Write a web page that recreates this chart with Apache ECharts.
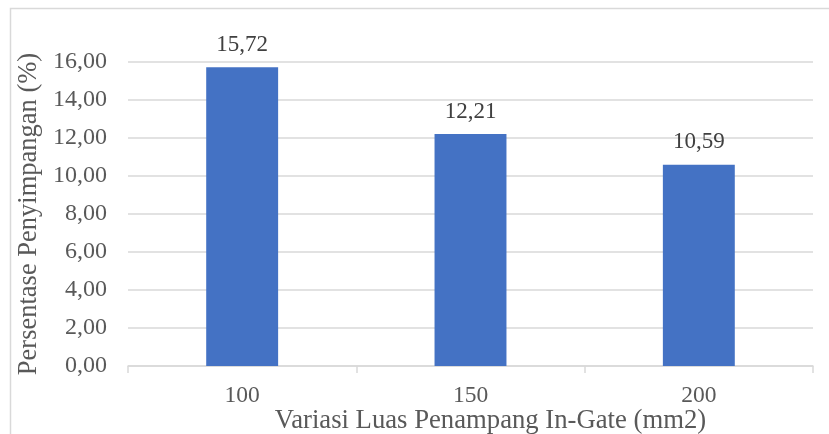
<!DOCTYPE html>
<html>
<head>
<meta charset="utf-8">
<script src="https://cdn.jsdelivr.net/npm/echarts@6/dist/echarts.min.js"></script>
<style>
  html, body { margin: 0; padding: 0; background: #ffffff; }
  #chart { width: 829px; height: 434px; }
</style>
</head>
<body>
<div id="chart"></div>
<script>
// Gate cross-section area variants and their deviation percentage
const categories = ['100', '150', '200'];
const deviation = [15.72, 12.21, 10.59];
const yTicks = { min: 0, max: 16, interval: 2 };

const fmt = v => v.toFixed(2).replace('.', ',');
const serif = '"Liberation Serif", "Times New Roman", serif';

const chart = echarts.init(document.getElementById('chart'), null, { renderer: 'canvas' });

chart.setOption({
  backgroundColor: '#ffffff',
  animation: false,
  textStyle: { fontFamily: serif },
  graphic: [
    {
      type: 'rect',
      shape: { x: 10.5, y: 8.5, width: 840, height: 460 },
      style: { fill: 'none', stroke: '#d9d9d9', lineWidth: 1.5 },
      silent: true,
      z: -1
    }
  ],
  grid: { left: 128, right: 16, top: 62, bottom: 68, outerBoundsMode: 'none', containLabel: false },
  xAxis: {
    type: 'category',
    data: categories,
    name: 'Variasi Luas Penampang In-Gate (mm2)',
    nameLocation: 'middle',
    nameGap: 41,
    nameMoveOverlap: false,
    nameTextStyle: { fontFamily: serif, fontSize: 26.7, color: '#595959', padding: [0, 0, 0, 40] },
    axisLine: { lineStyle: { color: '#d9d9d9', width: 1.5 } },
    axisTick: { show: true, length: 7, alignWithLabel: false, lineStyle: { color: '#d9d9d9', width: 1.5 } },
    axisLabel: { fontFamily: serif, fontSize: 23.5, color: '#595959', margin: 18 },
    splitLine: { show: false }
  },
  yAxis: {
    type: 'value',
    min: yTicks.min,
    max: yTicks.max,
    interval: yTicks.interval,
    name: 'Persentase Penyimpangan (%)',
    nameLocation: 'middle',
    nameGap: 85,
    nameRotate: 90,
    nameMoveOverlap: false,
    nameTextStyle: { fontFamily: serif, fontSize: 26.5, color: '#595959' },
    axisLine: { show: false },
    axisTick: { show: false },
    axisLabel: { fontFamily: serif, fontSize: 24, color: '#595959', margin: 21, formatter: v => fmt(v) },
    splitLine: { lineStyle: { color: '#d9d9d9', width: 1.5 } }
  },
  series: [
    {
      type: 'bar',
      data: deviation,
      barWidth: '31.5%',
      itemStyle: { color: '#4472c4' },
      label: {
        show: true,
        position: 'top',
        distance: 11,
        fontFamily: serif,
        fontSize: 23,
        color: '#404040',
        formatter: p => fmt(p.value)
      }
    }
  ]
});
</script>
</body>
</html>
